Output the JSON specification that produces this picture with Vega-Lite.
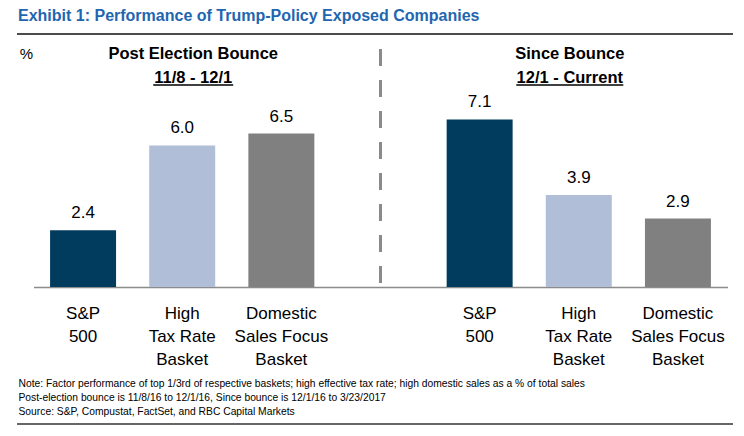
{
  "$schema": "https://vega.github.io/schema/vega-lite/v6.json",
  "width": 694,
  "height": 236,
  "autosize": "none",
  "padding": {"left": 33.5, "right": 16.5, "top": 51, "bottom": 149},
  "background": "white",
  "config": {"font": "Liberation Sans", "view": {"stroke": null}},
  "title": {
    "text": "Exhibit 1: Performance of Trump-Policy Exposed Companies",
    "anchor": "start",
    "frame": "group",
    "dx": -15.5,
    "offset": 1,
    "baseline": "middle",
    "fontSize": 16,
    "fontWeight": "bold",
    "color": "#1F66B0"
  },
  "data": {
    "values": [
      {"slot": "a1", "period": "Post Election Bounce", "category": "S&P 500", "label": "S&P\n500", "value": 2.4},
      {"slot": "a2", "period": "Post Election Bounce", "category": "High Tax Rate Basket", "label": "High\nTax Rate\nBasket", "value": 6.0},
      {"slot": "a3", "period": "Post Election Bounce", "category": "Domestic Sales Focus Basket", "label": "Domestic\nSales Focus\nBasket", "value": 6.5},
      {"slot": "b1", "period": "Since Bounce", "category": "S&P 500", "label": "S&P\n500", "value": 7.1},
      {"slot": "b2", "period": "Since Bounce", "category": "High Tax Rate Basket", "label": "High\nTax Rate\nBasket", "value": 3.9},
      {"slot": "b3", "period": "Since Bounce", "category": "Domestic Sales Focus Basket", "label": "Domestic\nSales Focus\nBasket", "value": 2.9}
    ]
  },
  "layer": [
    {
      "mark": {"type": "bar"},
      "encoding": {
        "x": {
          "field": "slot",
          "type": "nominal",
          "scale": {"domain": ["a1", "a2", "a3", "gap", "b1", "b2", "b3"], "paddingInner": 0.3345, "paddingOuter": 0.1672},
          "axis": {
            "labels": false,
            "ticks": false,
            "domain": true,
            "domainColor": "#8c8c8c",
            "domainWidth": 1.5,
            "title": [
              "Note: Factor performance of top 1/3rd of respective baskets; high effective tax rate; high domestic sales as a % of total sales",
              "Post-election bounce is 11/8/16 to 12/1/16, Since bounce is 12/1/16 to 3/23/2017",
              "Source: S&P, Compustat, FactSet, and RBC Capital Markets"
            ],
            "titleAnchor": "start",
            "titleAlign": "left",
            "titleBaseline": "top",
            "titleX": -15.5,
            "titleY": 91.5,
            "titleFontSize": 10.3,
            "titleFontWeight": "normal",
            "titleLineHeight": 14,
            "titleColor": "#000000"
          }
        },
        "y": {
          "field": "value",
          "type": "quantitative",
          "scale": {"domain": [0, 10], "nice": false},
          "axis": {
            "labels": false,
            "ticks": false,
            "domain": false,
            "grid": false,
            "title": "%",
            "titleAngle": 0,
            "titleAlign": "center",
            "titleBaseline": "middle",
            "titleX": -7.5,
            "titleY": 2,
            "titleFontSize": 15,
            "titleFontWeight": "normal",
            "titleColor": "#000000"
          }
        },
        "color": {
          "field": "category",
          "type": "nominal",
          "scale": {"domain": ["S&P 500", "High Tax Rate Basket", "Domestic Sales Focus Basket"], "range": ["#013B5E", "#B1BED8", "#808080"]},
          "legend": null
        }
      }
    },
    {
      "mark": {"type": "text", "baseline": "middle", "dy": -17, "fontSize": 17, "color": "#000000"},
      "encoding": {
        "x": {"field": "slot", "type": "nominal"},
        "y": {"field": "value", "type": "quantitative"},
        "text": {"field": "value", "type": "quantitative", "format": ".1f"}
      }
    },
    {
      "mark": {"type": "text", "baseline": "top", "dy": 19, "fontSize": 17, "lineHeight": 23, "lineBreak": "\n", "color": "#000000"},
      "encoding": {
        "x": {"field": "slot", "type": "nominal"},
        "y": {"datum": 0},
        "text": {"field": "label", "type": "nominal"}
      }
    },
    {
      "data": {"values": [{}]},
      "mark": {"type": "rule", "strokeDash": [17, 14], "strokeWidth": 3, "color": "#8a8a8a"},
      "encoding": {"x": {"datum": "gap"}, "y": {"datum": 10.085}, "y2": {"datum": 0.17}}
    },
    {
      "data": {"values": [{}]},
      "mark": {"type": "text", "baseline": "top", "fontSize": 16.5, "fontWeight": "bold", "lineHeight": 24, "dx": 11, "color": "#000000"},
      "encoding": {"x": {"datum": "a2"}, "y": {"datum": 10.22}, "text": {"value": ["Post Election Bounce", "11/8 - 12/1"]}}
    },
    {
      "data": {"values": [{}]},
      "mark": {"type": "rule", "strokeWidth": 1.5, "color": "#000000", "xOffset": -29, "x2Offset": 51},
      "encoding": {"x": {"datum": "a2"}, "x2": {"datum": "a2"}, "y": {"datum": 8.56}}
    },
    {
      "data": {"values": [{}]},
      "mark": {"type": "text", "baseline": "top", "fontSize": 16.5, "fontWeight": "bold", "lineHeight": 24, "dx": -9, "color": "#000000"},
      "encoding": {"x": {"datum": "b2"}, "y": {"datum": 10.22}, "text": {"value": ["Since Bounce", "12/1 - Current"]}}
    },
    {
      "data": {"values": [{}]},
      "mark": {"type": "rule", "strokeWidth": 1.5, "color": "#000000", "xOffset": -62.5, "x2Offset": 44.5},
      "encoding": {"x": {"datum": "b2"}, "x2": {"datum": "b2"}, "y": {"datum": 8.56}}
    },
    {
      "data": {"values": [{}]},
      "mark": {"type": "rule", "strokeWidth": 1.5, "color": "#111111"},
      "encoding": {"x": {"value": -16.5}, "x2": {"value": 699.5}, "y": {"datum": 10.72}}
    },
    {
      "data": {"values": [{}]},
      "mark": {"type": "rule", "strokeWidth": 1.5, "color": "#333333"},
      "encoding": {"x": {"value": -16.5}, "x2": {"value": 699.5}, "y": {"datum": -5.805}}
    }
  ]
}
